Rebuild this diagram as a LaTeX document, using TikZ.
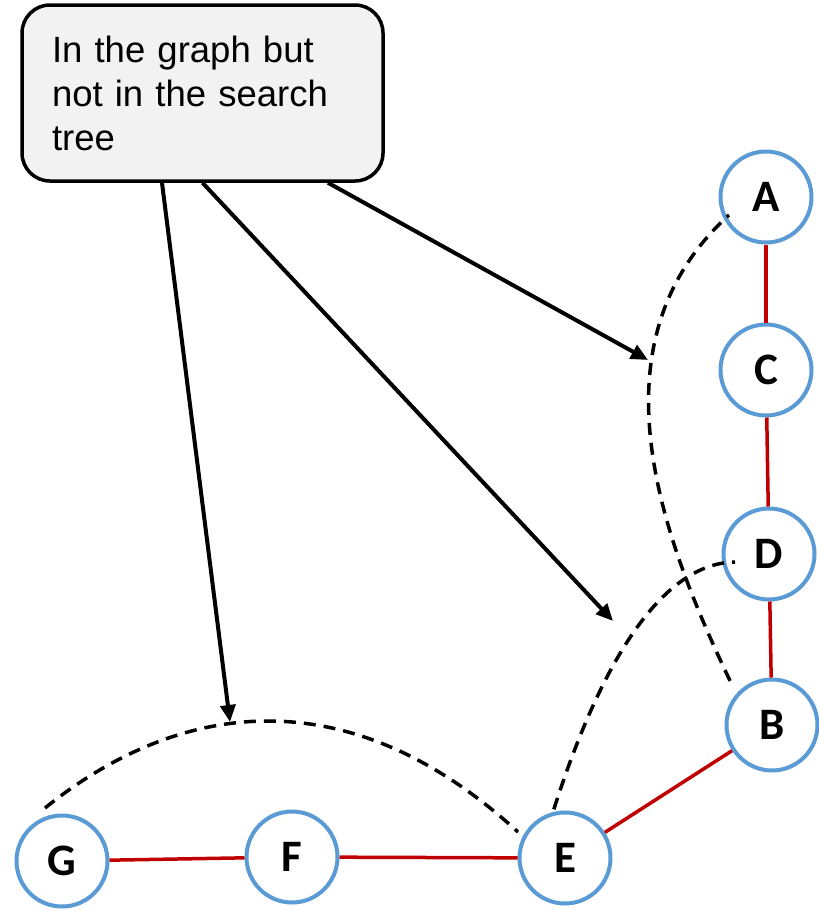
\documentclass[tikz,border=0pt]{standalone}
\usepackage{fontspec}
\setmainfont{Liberation Sans}
\newfontfamily\vertexfont{Carlito}
\usetikzlibrary{arrows.meta,calc}
\definecolor{vertexblue}{HTML}{5B9BD5}
\definecolor{treered}{HTML}{C00000}
\definecolor{notefill}{HTML}{F2F2F2}

\begin{document}
\begin{tikzpicture}[x=1pt,y=-1pt,
  vertex/.style={circle, draw=vertexblue, line width=4pt, fill=white,
    minimum size=91pt, inner sep=0pt,
    font=\vertexfont\bfseries\fontsize{45}{54}\selectfont},
  treeedge/.style={draw=treered, line width=3.5pt},
  graphedge/.style={draw=black, line width=3.5pt, dash pattern=on 12pt off 8pt},
  pointer/.style={draw=black, line width=4pt, -{Triangle[length=17pt,width=15pt]}},
  notebox/.style={draw=black, line width=3.5pt, fill=notefill, rounded corners=28pt,
    minimum width=361pt, minimum height=176pt, text width=301pt, inner xsep=30pt,
    align=left, font=\fontsize{36.5}{44}\selectfont}]

\useasboundingbox (0,0) rectangle (819,911);

% callout box
\node[notebox] (note) at (202.5,93) {In the graph but\\not in the search\\tree};

% vertices
\node[vertex] (A) at (766,197) {A};
\node[vertex] (C) at (766,370) {C};
\node[vertex] (D) at (769,554) {D};
\node[vertex] (B) at (772,725) {B};
\node[vertex] (E) at (565,858) {E};
\node[vertex] (F) at (292,857) {F};
\node[vertex] (G) at (62,861) {G};

% search tree edges
\draw[treeedge] (A) -- (C);
\draw[treeedge] (C) -- (D);
\draw[treeedge] (D) -- (B);
\draw[treeedge] (B) -- (E);
\draw[treeedge] (E) -- (F);
\draw[treeedge] (F) -- (G);

% graph edges outside the search tree
\draw[graphedge, dash phase=9pt] ($(A)+(-37,18)$) .. controls (587,344) and (662,539) .. ($(B)+(-39,-38)$);
\draw[graphedge, dash phase=9pt] ($(D)+(-34,8)$) .. controls (665,563) and (603,654) .. ($(E)+(-12,-46)$);
\draw[graphedge] ($(G)+(-17,-53)$) .. controls (182,698) and (350,678) .. ($(E)+(-47,-26)$);

% arrow targets on the dashed edges
\coordinate (tipAB) at (648,360);
\coordinate (tipDE) at (613,621);
\coordinate (tipGE) at (230,722);

\draw[pointer] ($(note.south)+(-40.5,0)$) -- (tipGE);
\draw[pointer] (note.south) -- (tipDE);
\draw[pointer] ($(note.south)+(125.5,0)$) -- (tipAB);

\end{tikzpicture}
\end{document}
